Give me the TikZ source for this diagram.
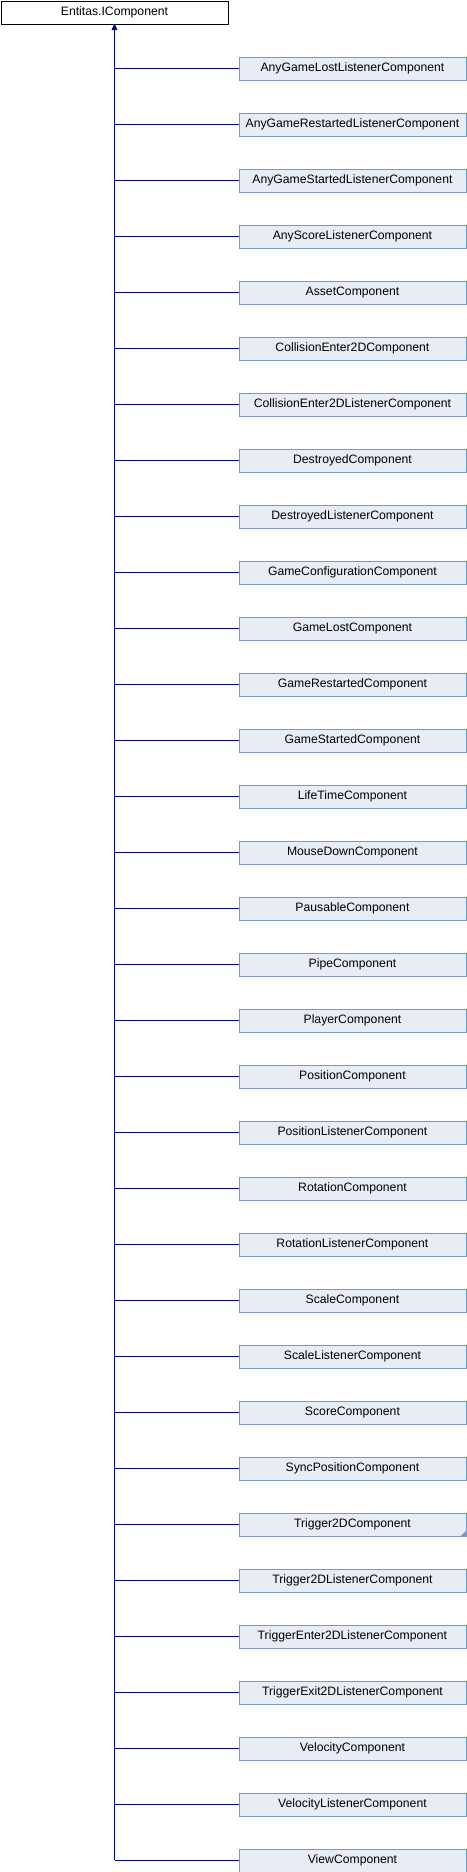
\documentclass[tikz,border=0pt]{standalone}
\usepackage{fontspec}
\setmainfont{Liberation Sans}
\usetikzlibrary{arrows.meta}
\definecolor{edgeblue}{RGB}{0,0,150}
\definecolor{boxfill}{RGB}{232,236,245}
\definecolor{boxline}{RGB}{122,150,210}
\tikzset{
  childbox/.style={draw=boxline, fill=boxfill, line width=0.9pt, minimum width=227pt, minimum height=23pt, inner sep=0pt, anchor=north west, font=\fontsize{12.2}{14}\selectfont},
  rootbox/.style={draw=black, fill=white, line width=0.9pt, minimum width=227pt, minimum height=23pt, inner sep=0pt, anchor=north west, font=\fontsize{12.2}{14}\selectfont},
  edge/.style={draw=edgeblue, line width=0.9pt}
}
\begin{document}
\begin{tikzpicture}[x=1pt,y=-1pt]
\useasboundingbox (0,0) rectangle (466,1872);
\node[rootbox] (root) at (0.5,0.5) {Entitas.IComponent};
\coordinate (top) at (114.5,23.5);
\foreach [count=\i from 0] \name in {AnyGameLostListenerComponent,AnyGameRestartedListenerComponent,AnyGameStartedListenerComponent,AnyScoreListenerComponent,AssetComponent,CollisionEnter2DComponent,CollisionEnter2DListenerComponent,DestroyedComponent,DestroyedListenerComponent,GameConfigurationComponent,GameLostComponent,GameRestartedComponent,GameStartedComponent,LifeTimeComponent,MouseDownComponent,PausableComponent,PipeComponent,PlayerComponent,PositionComponent,PositionListenerComponent,RotationComponent,RotationListenerComponent,ScaleComponent,ScaleListenerComponent,ScoreComponent,SyncPositionComponent,Trigger2DComponent,Trigger2DListenerComponent,TriggerEnter2DListenerComponent,TriggerExit2DListenerComponent,VelocityComponent,VelocityListenerComponent,ViewComponent} {
  \node[childbox] (c\i) at (238.5,{56.5+56*\i}) {\name};
  \draw[edge] (c\i.west) -- (c\i.west -| top);
}
\fill[boxline] (c26.south east) -- ++(0,-6) -- ++(-6,6) -- cycle;
\draw[edge] (c32.west -| top) -- (top);
\fill[edgeblue] (top) -- (111.5,30) -- (117.5,30) -- cycle;
\end{tikzpicture}
\end{document}
